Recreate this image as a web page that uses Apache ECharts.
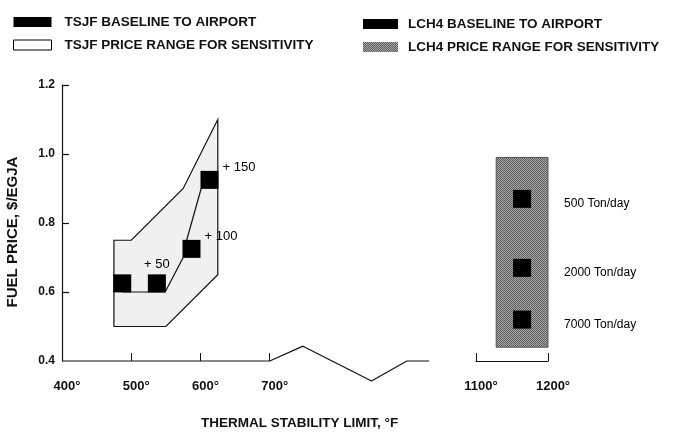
<!DOCTYPE html>
<html>
<head>
<meta charset="utf-8">
<script src="https://cdn.jsdelivr.net/npm/echarts@6/dist/echarts.min.js"></script>
<style>
html,body{margin:0;padding:0;background:#fff;}
#chart{width:673px;height:435px;}
</style>
</head>
<body>
<div id="chart"></div>
<script>
// ---- data ----
const yTicks = [0.4, 0.6, 0.8, 1.0, 1.2];
const xTicksLow = [400, 500, 600, 700];
const xTicksHigh = [1100, 1200];

// TSJF price range polygon (deg F, $/EGJA)
const tsjfRange = [[625, 1.10], [625, 0.65], [550, 0.50], [475, 0.50], [475, 0.75], [500, 0.75], [575, 0.90]];
// TSJF baseline to airport
const tsjfBaseline = [[487, 0.625], [537, 0.625], [587, 0.725], [613, 0.925]];
const tsjfLabels = ['', '+ 50', '+ 100', '+ 150'];
// connecting lines between TSJF points
const tsjfTrendA = [[487, 0.60], [549, 0.60], [575, 0.70]];
const tsjfTrendB = [[580, 0.75], [601, 0.90]];

// LCH4 price range box [x0, y0, x1, y1]
const lch4Range = [[1128, 0.44, 1200, 0.99]];
// LCH4 baseline to airport
const lch4Baseline = [[1164, 0.87], [1164, 0.67], [1164, 0.52]];
const lch4Labels = ['500 Ton/day', '2000 Ton/day', '7000 Ton/day'];

// broken axis baseline with zigzag
const brokenBaseline = [[400, 0.4], [700, 0.4], [748, 0.443], [847, 0.342], [898, 0.4], [930, 0.4]];

const FONT = 'Liberation Sans, Arial, sans-serif';

// halftone-like texture for the LCH4 range
function makeHalftone() {
  const c = document.createElement('canvas');
  c.width = 4; c.height = 4;
  const g = c.getContext('2d');
  g.fillStyle = '#a8a8a8'; g.fillRect(0, 0, 4, 4);
  g.fillStyle = '#5c5c5c';
  [[0,0],[2,0],[1,1],[3,1],[0,2],[2,2],[1,3],[3,3]].forEach(([x, y]) => g.fillRect(x, y, 1, 1));
  return c;
}
const halftone = {image: makeHalftone(), repeat: 'repeat'};

const chart = echarts.init(document.getElementById('chart'), null, {renderer: 'canvas'});
const gridTop = 85, gridH = 276;

chart.setOption({
  animation: false,
  backgroundColor: '#fff',
  title: {
    text: 'THERMAL STABILITY LIMIT, \u00B0F',
    left: 196, top: 411,
    textStyle: {fontFamily: FONT, fontSize: 13.5, fontWeight: 'bold', color: '#111'}
  },
  legend: [{
    left: 8, top: 10, orient: 'vertical', itemWidth: 38, itemHeight: 10, itemGap: 9,
    icon: 'rect', selectedMode: false,
    textStyle: {fontFamily: FONT, fontSize: 13.5, fontWeight: 'bold', color: '#111', padding: [0, 0, 0, 8]},
    data: [
      {name: 'TSJF BASELINE TO AIRPORT', itemStyle: {color: '#000', opacity: 1}},
      {name: 'TSJF PRICE RANGE FOR SENSITIVITY', itemStyle: {color: '#fff', borderColor: '#000', borderWidth: 1, opacity: 1}}
    ]
  }, {
    left: 358, top: 12, orient: 'vertical', itemWidth: 35, itemHeight: 10, itemGap: 9,
    icon: 'rect', selectedMode: false,
    textStyle: {fontFamily: FONT, fontSize: 13.5, fontWeight: 'bold', color: '#111', padding: [0, 0, 0, 5]},
    data: [
      {name: 'LCH4 BASELINE TO AIRPORT', itemStyle: {color: '#000', opacity: 1}},
      {name: 'LCH4 PRICE RANGE FOR SENSITIVITY', itemStyle: {color: halftone, opacity: 1}}
    ]
  }],
  grid: [
    {left: 62, top: gridTop, width: 367, height: gridH, containLabel: false, outerBoundsMode: 'none'},
    {left: 476, top: gridTop, width: 72, height: gridH, containLabel: false, outerBoundsMode: 'none'}
  ],
  xAxis: [{
    type: 'value', gridIndex: 0, min: 400, max: 930,
    axisLine: {show: false},
    axisTick: {show: true, inside: true, length: 8, customValues: [500, 600, 700], lineStyle: {color: '#111'}},
    axisLabel: {customValues: xTicksLow, formatter: v => v + '\u00B0', margin: 19,
      fontFamily: FONT, fontSize: 13, fontWeight: 'bold', color: '#111', padding: [0, 0, 0, 10]},
    splitLine: {show: false}
  }, {
    type: 'value', gridIndex: 1, min: 1100, max: 1200,
    axisLine: {show: true, lineStyle: {color: '#111', width: 1}},
    axisTick: {show: true, inside: true, length: 8, customValues: xTicksHigh, lineStyle: {color: '#111'}},
    axisLabel: {customValues: xTicksHigh, formatter: v => v + '\u00B0', margin: 19,
      fontFamily: FONT, fontSize: 13, fontWeight: 'bold', color: '#111', padding: [0, 0, 0, 10]},
    splitLine: {show: false}
  }],
  yAxis: [{
    type: 'value', gridIndex: 0, min: 0.4, max: 1.2, interval: 0.2,
    name: 'FUEL PRICE, $/EGJA', nameLocation: 'middle', nameGap: 42,
    nameTextStyle: {fontFamily: FONT, fontSize: 15, fontWeight: 'bold', color: '#111', padding: [0, 18, 0, 0]},
    axisLine: {show: true, lineStyle: {color: '#111', width: 1.2}},
    axisTick: {show: true, inside: true, length: 7, customValues: [0.6, 0.8, 1.0, 1.2], lineStyle: {color: '#111', width: 1.2}},
    axisLabel: {customValues: yTicks, formatter: v => v.toFixed(1), margin: 7,
      fontFamily: FONT, fontSize: 12, fontWeight: 'bold', color: '#111'},
    splitLine: {show: false}
  }, {
    type: 'value', gridIndex: 1, min: 0.4, max: 1.2, interval: 0.2, show: false
  }],
  series: [
    {
      name: 'TSJF PRICE RANGE FOR SENSITIVITY', type: 'custom', xAxisIndex: 0, yAxisIndex: 0,
      itemStyle: {color: '#fff', borderColor: '#000'},
      data: tsjfRange, encode: {x: 0, y: 1}, z: 1,
      renderItem: (params, api) => {
        if (params.dataIndex !== 0) return null;
        const pts = tsjfRange.map(p => api.coord(p));
        return {type: 'polygon', shape: {points: pts},
          style: {fill: '#f0f0f0', stroke: '#111', lineWidth: 1.2}};
      }
    },
    {
      type: 'line', xAxisIndex: 0, yAxisIndex: 0, data: tsjfTrendA, symbol: 'none', z: 2,
      lineStyle: {color: '#111', width: 1.2}, silent: true
    },
    {
      type: 'line', xAxisIndex: 0, yAxisIndex: 0, data: tsjfTrendB, symbol: 'none', z: 2,
      lineStyle: {color: '#111', width: 1.2}, silent: true
    },
    {
      type: 'line', xAxisIndex: 0, yAxisIndex: 0, data: brokenBaseline, symbol: 'none', clip: false, z: 2,
      lineStyle: {color: '#111', width: 1.2}, silent: true
    },
    {
      name: 'TSJF BASELINE TO AIRPORT', type: 'scatter', xAxisIndex: 0, yAxisIndex: 0,
      symbol: 'rect', symbolSize: 18, itemStyle: {color: '#000', opacity: 1}, z: 5,
      data: tsjfBaseline.map((p, i) => {
        const lab = tsjfLabels[i];
        const d = {value: p};
        if (i === 1) d.label = {show: true, position: 'top', distance: 3, formatter: lab};
        else if (i >= 2) d.label = {show: true, position: 'right', distance: 4, offset: [0, -12], formatter: lab};
        return d;
      }),
      label: {fontFamily: FONT, fontSize: 13, color: '#000'}
    },
    {
      name: 'LCH4 PRICE RANGE FOR SENSITIVITY', type: 'custom', xAxisIndex: 1, yAxisIndex: 1,
      itemStyle: {color: '#8a8a8a'},
      data: lch4Range, encode: {x: [0, 2], y: [1, 3]}, z: 1,
      renderItem: (params, api) => {
        const p0 = api.coord([api.value(0), api.value(3)]);
        const p1 = api.coord([api.value(2), api.value(1)]);
        return {type: 'rect', shape: {x: p0[0], y: p0[1], width: p1[0] - p0[0], height: p1[1] - p0[1]},
          style: {fill: halftone, stroke: '#555', lineWidth: 1}};
      }
    },
    {
      name: 'LCH4 BASELINE TO AIRPORT', type: 'scatter', xAxisIndex: 1, yAxisIndex: 1,
      symbol: 'rect', symbolSize: 18, itemStyle: {color: '#000', opacity: 1}, z: 5,
      data: lch4Baseline.map((p, i) => ({value: p, label: {formatter: lch4Labels[i]}})),
      label: {show: true, position: 'right', distance: 33, offset: [0, 5],
        fontFamily: FONT, fontSize: 12, color: '#000'}
    }
  ]
});
</script>
</body>
</html>
